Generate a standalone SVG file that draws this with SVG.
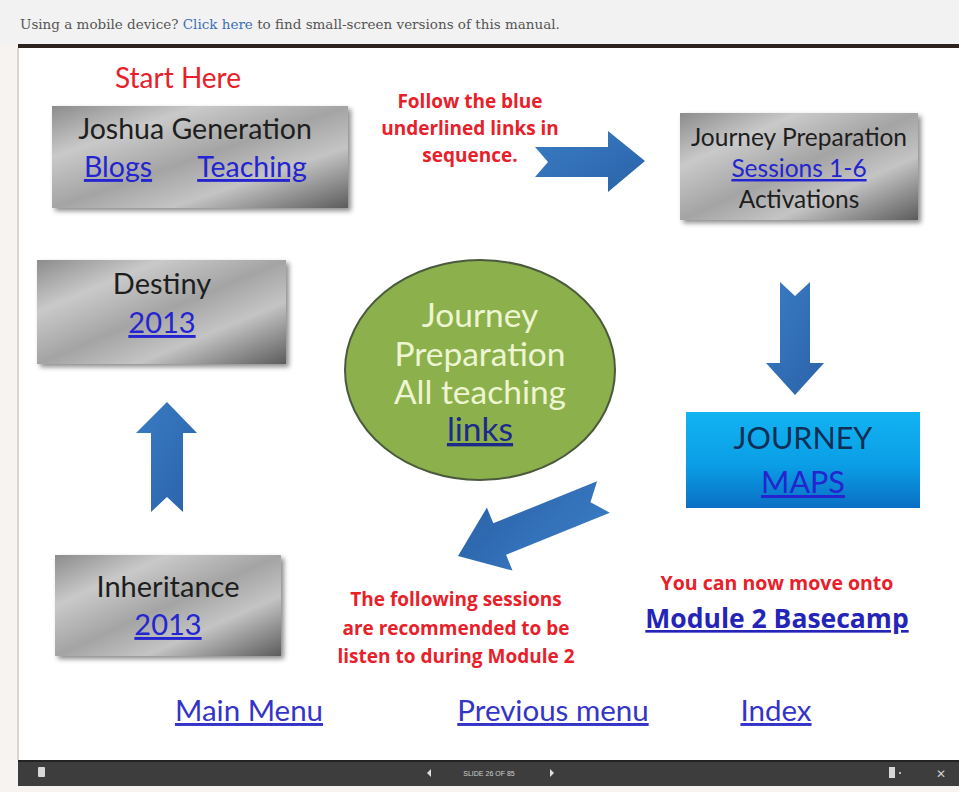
<svg xmlns="http://www.w3.org/2000/svg" width="959" height="792" viewBox="0 0 959 792">
<style>
.t{font-family:Lato,"Open Sans","Liberation Sans",sans-serif;}
.dark{fill:#1e1e1e;}
.lnk{fill:#2424d0;text-decoration:underline;}
.red{fill:#e8202a;font-weight:bold;font-family:"Open Sans","Liberation Sans",sans-serif;}
.arrow{fill:url(#arrowGrad);}
.box{filter:url(#shadow);}
</style>
<defs>
<linearGradient id="metal" x1="0" y1="0" x2="1" y2="1">
<stop offset="0" stop-color="#8c8c8c"/>
<stop offset="0.25" stop-color="#c9c9c9"/>
<stop offset="0.5" stop-color="#a4a4a4"/>
<stop offset="0.7" stop-color="#c4c4c4"/>
<stop offset="1" stop-color="#5c5c5c"/>
</linearGradient>
<linearGradient id="blueBox" x1="0" y1="0" x2="0" y2="1">
<stop offset="0" stop-color="#12b4f2"/>
<stop offset="0.55" stop-color="#0a9ee6"/>
<stop offset="1" stop-color="#0a6fc4"/>
</linearGradient>
<linearGradient id="arrowGrad" x1="0" y1="0" x2="1" y2="1">
<stop offset="0" stop-color="#3a7cc4"/>
<stop offset="1" stop-color="#2a62a8"/>
</linearGradient>
<filter id="shadow" x="-10%" y="-10%" width="125%" height="130%">
<feDropShadow dx="3" dy="3" stdDeviation="2.5" flood-color="#000" flood-opacity="0.45"/>
</filter>
</defs>

<!-- page chrome -->
<rect x="0" y="0" width="959" height="792" fill="#f6f3f0"/>
<rect x="0" y="0" width="959" height="45" fill="#f2f2f2"/>
<text x="20" y="29" font-family="'DejaVu Serif',serif" font-size="13.5" fill="#555">Using a mobile device? <tspan fill="#3b6fb6">Click here</tspan> to find small-screen versions of this manual.</text>
<rect x="18" y="48" width="941" height="712" fill="#ffffff"/>
<line x1="18" y1="48" x2="18" y2="760" stroke="#cfc8c2" stroke-width="1.5"/>
<rect x="18" y="44" width="941" height="4" fill="#2e221e"/>
<rect x="18" y="760" width="941" height="26" fill="#3d3d3d"/>
<rect x="18" y="760" width="941" height="2" fill="#222"/>
<rect x="38" y="767" width="7" height="10" fill="#d8d8d8" rx="1"/>
<polygon points="431,769 427,773 431,777" fill="#e0e0e0"/>
<text x="489" y="776" text-anchor="middle" font-family="'Liberation Sans',sans-serif" font-size="7" fill="#cfcfcf">SLIDE 26 OF 85</text>
<polygon points="550,769 554,773 550,777" fill="#e0e0e0"/>
<rect x="889" y="767" width="6" height="11" fill="#d8d8d8"/>
<rect x="899" y="772" width="2" height="2" fill="#bbb"/>
<text x="941" y="778" text-anchor="middle" font-family="'Liberation Sans',sans-serif" font-size="12" fill="#cfcfcf">✕</text>

<!-- connectors -->
<g id="connectors">
<polygon class="arrow" points="535,147 608,147 608,131 645,161 608,192 608,177 535,177 548,162"/>
<polygon class="arrow" points="780,282 795,296 810,282 810,363 824,363 795,395 766,363 780,363"/>
<polygon class="arrow" transform="translate(458,556) rotate(157.9)" points="-157,-17 -45,-17 -45,-34 0,0 -45,34 -45,17 -157,17 -143,0"/>
<polygon class="arrow" points="167,402 197,433 183,433 183,512 167,497 151,512 151,433 136,433"/>
</g>

<!-- nodes -->
<g id="start-here">
<text class="t" x="178" y="88" text-anchor="middle" font-size="28" fill="#e8202a">Start Here</text>
</g>

<g id="joshua-generation">
<rect class="box" x="52" y="106" width="296" height="102" fill="url(#metal)"/>
<text class="t dark" x="195" y="139" text-anchor="middle" font-size="28.5">Joshua Generation</text>
<text class="t lnk" x="118" y="177" text-anchor="middle" font-size="28.5">Blogs</text>
<text class="t lnk" x="252" y="177" text-anchor="middle" font-size="28.5">Teaching</text>
</g>

<g id="follow-note">
<text class="t red" x="470" y="108" text-anchor="middle" font-size="19">Follow the blue</text>
<text class="t red" x="470" y="135" text-anchor="middle" font-size="19">underlined links in</text>
<text class="t red" x="470" y="162" text-anchor="middle" font-size="19">sequence.</text>
</g>

<g id="journey-preparation">
<rect class="box" x="680" y="113" width="238" height="107" fill="url(#metal)"/>
<text class="t dark" x="799" y="146" text-anchor="middle" font-size="24.5">Journey Preparation</text>
<text class="t lnk" x="799" y="177" text-anchor="middle" font-size="24.5">Sessions 1-6</text>
<text class="t dark" x="799" y="208" text-anchor="middle" font-size="24.5">Activations</text>
</g>

<g id="journey-maps">
<rect x="686" y="412" width="234" height="96" fill="url(#blueBox)"/>
<text class="t" x="803" y="449" text-anchor="middle" font-size="30.5" fill="#0f2f55">JOURNEY</text>
<text class="t lnk" x="803" y="493" text-anchor="middle" font-size="30.5">MAPS</text>
</g>

<g id="all-teaching">
<ellipse cx="480" cy="370" rx="135" ry="110" fill="#8cb04c" stroke="#4a5a3c" stroke-width="2"/>
<text class="t" x="480" y="327" text-anchor="middle" font-size="33.5" fill="#eef5d2">Journey</text>
<text class="t" x="480" y="366" text-anchor="middle" font-size="33.5" fill="#eef5d2">Preparation</text>
<text class="t" x="480" y="404" text-anchor="middle" font-size="33.5" fill="#eef5d2">All teaching</text>
<text class="t" x="480" y="441" text-anchor="middle" font-size="33.5" fill="#1c2a8c" text-decoration="underline">links</text>
</g>

<g id="destiny">
<rect class="box" x="37" y="260" width="249" height="104" fill="url(#metal)"/>
<text class="t dark" x="162" y="294" text-anchor="middle" font-size="29">Destiny</text>
<text class="t lnk" x="162" y="333" text-anchor="middle" font-size="29">2013</text>
</g>

<g id="inheritance">
<rect class="box" x="55" y="555" width="226" height="101" fill="url(#metal)"/>
<text class="t dark" x="168" y="597" text-anchor="middle" font-size="29">Inheritance</text>
<text class="t lnk" x="168" y="635" text-anchor="middle" font-size="29">2013</text>
</g>

<g id="following-note">
<text class="t red" x="456" y="606" text-anchor="middle" font-size="19">The following sessions</text>
<text class="t red" x="456" y="635" text-anchor="middle" font-size="19">are recommended to be</text>
<text class="t red" x="456" y="663" text-anchor="middle" font-size="19">listen to during Module 2</text>
</g>

<g id="module2">
<text class="t red" x="777" y="590" text-anchor="middle" font-size="19.5">You can now move onto</text>
<text x="777" y="628" text-anchor="middle" font-family="'Open Sans','Liberation Sans',sans-serif" font-size="26.5" font-weight="bold" fill="#2424b8" text-decoration="underline">Module 2 Basecamp</text>
</g>

<g id="main-menu">
<text class="t lnk" x="249" y="721" text-anchor="middle" font-size="29.5" style="fill:#3434c8">Main Menu</text>
</g>
<g id="previous-menu">
<text class="t lnk" x="553" y="721" text-anchor="middle" font-size="29.5" style="fill:#3434c8">Previous menu</text>
</g>
<g id="index">
<text class="t lnk" x="776" y="721" text-anchor="middle" font-size="29.5" style="fill:#3434c8">Index</text>
</g>
</svg>
